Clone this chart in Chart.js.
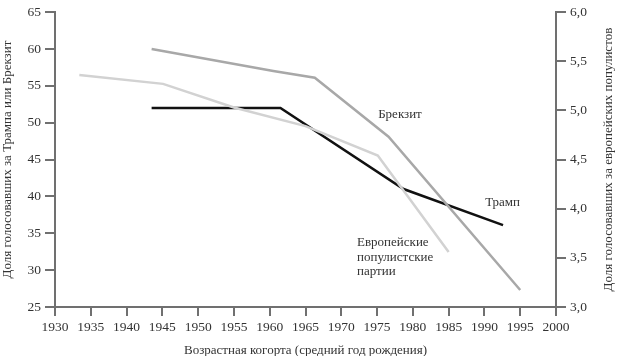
<!DOCTYPE html>
<html>
<head>
<meta charset="utf-8">
<script src="https://cdn.jsdelivr.net/npm/chart.js@4/dist/chart.umd.min.js"></script>
<style>
  html, body { margin: 0; padding: 0; background: #ffffff; }
  #wrap { width: 617px; height: 356px; position: relative; }
</style>
</head>
<body>
<div id="wrap"><canvas id="c" width="617" height="356"></canvas></div>
<script>
// ---- data ----
const brexitYears = [1943.5, 1960.5, 1966.3, 1976.6, 1995];
const brexitValues = [60, 57, 56.1, 48.1, 27.3];
const trumpYears = [1943.5, 1961.5, 1978.7, 1992.6];
const trumpValues = [52, 52, 41, 36.1];
const euYears = [1933.4, 1945.1, 1955, 1965, 1975.1, 1985];
const euValues = [5.36, 5.27, 5.03, 4.84, 4.54, 3.56];

const xTitle = 'Возрастная когорта (средний год рождения)';
const leftTitle = 'Доля голосовавших за Трампа или Брекзит';
const rightTitle = 'Доля голосовавших за европейских популистов';
const seriesNames = ['Брекзит', 'Трамп', 'Европейские популистские партии'];
const labelBrexit = ['Брекзит'];
const labelTrump = ['Трамп'];
const labelEu = ['Европейские', 'популистские', 'партии'];

// annotation anchors (year, left-axis value)
const annoBrexitAt = [1975.15, 51.1];
const annoTrumpAt = [1990.1, 39.1];
const annoEuAt = [1972.2, 33.7];

const FONT = '"Liberation Serif", "DejaVu Serif", serif';
const AXIS = '#707070';
const TXT = '#333333';

function pts(xs, ys) { return xs.map((x, i) => ({ x: x, y: ys[i] })); }

const annoPlugin = {
  id: 'anno',
  afterDatasetsDraw(chart) {
    const ctx = chart.ctx;
    const x = chart.scales.x, y = chart.scales.y;
    ctx.save();
    ctx.font = '13px ' + FONT;
    ctx.fillStyle = TXT;
    ctx.textAlign = 'left';
    ctx.textBaseline = 'middle';
    const put = (lines, at) => {
      const px = x.getPixelForValue(at[0]);
      const py = y.getPixelForValue(at[1]);
      lines.forEach((t, i) => ctx.fillText(t, px, py + i * 14.5));
    };
    put(labelBrexit, annoBrexitAt);
    put(labelTrump, annoTrumpAt);
    put(labelEu, annoEuAt);
    // right axis title (reads bottom to top)
    ctx.translate(609, (chart.chartArea.top + chart.chartArea.bottom) / 2);
    ctx.rotate(-Math.PI / 2);
    ctx.textAlign = 'center';
    ctx.fillText(rightTitle, 0, 0);
    ctx.restore();
  }
};

const gridOpts = { drawOnChartArea: false, drawTicks: true, tickLength: 10, color: AXIS, lineWidth: 2 };
const gridOptsX = { drawOnChartArea: false, drawTicks: true, tickLength: 9, color: AXIS, lineWidth: 2 };
const borderOpts = { color: AXIS, width: 2 };
const tickFont = { family: FONT, size: 13.5 };

new Chart(document.getElementById('c'), {
  type: 'line',
  data: {
    datasets: [
      { label: seriesNames[2], data: pts(euYears, euValues), yAxisID: 'y2', borderColor: '#d2d2d2', borderWidth: 2.5, pointRadius: 0, tension: 0 },
      { label: seriesNames[0], data: pts(brexitYears, brexitValues), yAxisID: 'y', borderColor: '#a8a8a8', borderWidth: 2.5, pointRadius: 0, tension: 0 },
      { label: seriesNames[1], data: pts(trumpYears, trumpValues), yAxisID: 'y', borderColor: '#111111', borderWidth: 2.5, pointRadius: 0, tension: 0 }
    ]
  },
  options: {
    responsive: false,
    animation: false,
    layout: { padding: { top: 7, left: 0, right: 0, bottom: 0 } },
    plugins: { legend: { display: false }, tooltip: { enabled: false } },
    scales: {
      x: {
        type: 'linear', min: 1930, max: 2000,
        ticks: { stepSize: 5, color: TXT, font: tickFont, padding: 3, maxRotation: 0, callback: v => String(v) },
        grid: gridOptsX, border: borderOpts,
        title: { display: true, text: xTitle, color: TXT, font: { family: FONT, size: 13 }, padding: { top: 0, bottom: -2 } },
        afterFit: s => { s.height = 49; }
      },
      y: {
        type: 'linear', position: 'left', min: 25, max: 65,
        ticks: { stepSize: 5, color: TXT, font: tickFont, padding: 4 },
        grid: gridOpts, border: borderOpts,
        title: { display: true, text: leftTitle, color: TXT, font: { family: FONT, size: 13 }, padding: { top: 0, bottom: 0 } },
        afterFit: s => { s.width = 55; }
      },
      y2: {
        type: 'linear', position: 'right', min: 3, max: 6,
        ticks: { stepSize: 0.5, color: TXT, font: tickFont, padding: 4, callback: v => v.toFixed(1).replace('.', ',') },
        grid: gridOpts, border: borderOpts,
        title: { display: false },
        afterFit: s => { s.width = 61; }
      }
    }
  },
  plugins: [annoPlugin]
});
</script>
</body>
</html>
